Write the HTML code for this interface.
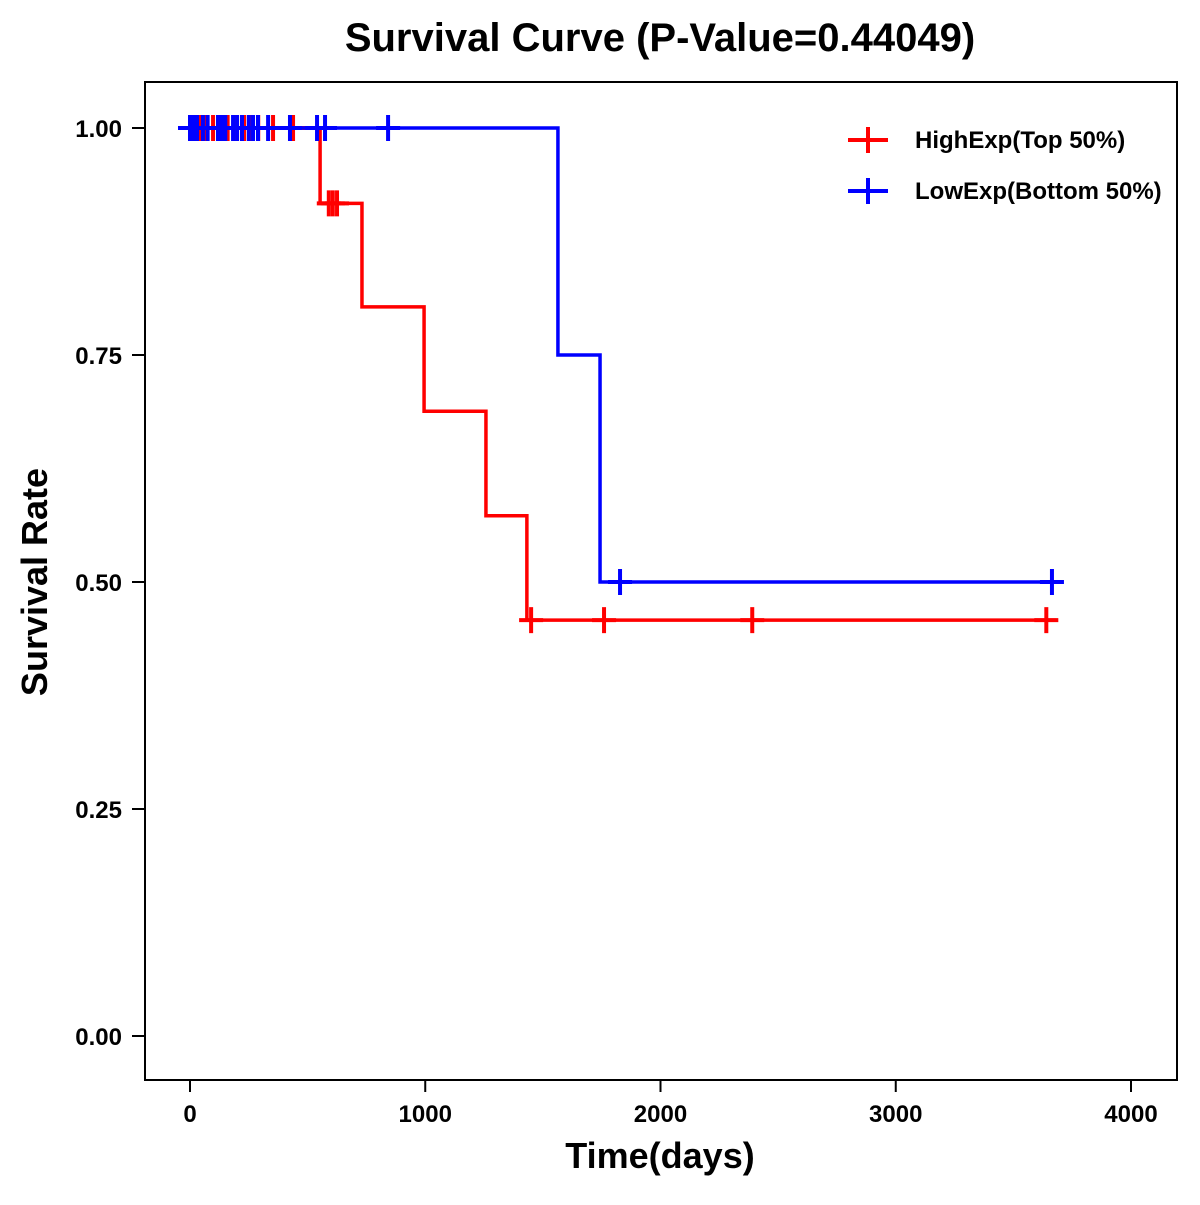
<!DOCTYPE html>
<html><head><meta charset="utf-8"><style>
html,body{margin:0;padding:0;background:#fff;}
svg text{font-family:"Liberation Sans",Arial,sans-serif;font-weight:bold;}
</style></head><body>
<svg id="chart" width="1200" height="1200" xmlns="http://www.w3.org/2000/svg">
<rect width="1200" height="1200" fill="#fff"/>
<text x="660" y="51" font-size="40" text-anchor="middle">Survival Curve (P-Value=0.44049)</text>
<rect x="145" y="82" width="1032" height="998" fill="none" stroke="#000" stroke-width="2"/>
<g id="xaxis"></g>
<g id="yaxis"></g>
<text x="660" y="1168" font-size="36" text-anchor="middle">Time(days)</text>
<text x="0" y="0" font-size="36" text-anchor="middle" transform="translate(47,582) rotate(-90)">Survival Rate</text>
<g id="series"></g>
<g>
 <g>
  <line x1="848" y1="140" x2="888" y2="140" stroke="#f00" stroke-width="4"/>
  <line x1="868" y1="127" x2="868" y2="153" stroke="#f00" stroke-width="4"/>
  <text x="915" y="148" font-size="24">HighExp(Top 50%)</text>
 </g>
 <g>
  <line x1="848" y1="191" x2="888" y2="191" stroke="#00f" stroke-width="4"/>
  <line x1="868" y1="178" x2="868" y2="204" stroke="#00f" stroke-width="4"/>
  <text x="915" y="199" font-size="24">LowExp(Bottom 50%)</text>
 </g>
</g>
</svg>
<script>
const xTicks=[0,1000,2000,3000,4000];
const yTicks=[0,0.25,0.5,0.75,1];
const yTickLabels=["0.00","0.25","0.50","0.75","1.00"];
const highTimes=[0,553,731,995,1258,1432,3681];
const highSurv=[1,0.917,0.803,0.688,0.573,0.458,0.458];
const highCensorT=[20,43,70,98,130,160,200,230,260,290,353,438,590,607,625,1450,1760,2390,3640];
const highCensorS=[1,1,1,1,1,1,1,1,1,1,1,1,0.917,0.917,0.917,0.458,0.458,0.458,0.458];
const lowTimes=[-50,1564,1743,3707];
const lowSurv=[1,0.75,0.5,0.5];
const lowCensorT=[0,15,30,55,75,119,135,150,183,200,221,250,268,289,332,425,540,574,842,1828,3664];
const lowCensorS=[1,1,1,1,1,1,1,1,1,1,1,1,1,1,1,1,1,1,1,0.5,0.5];
const NS="http://www.w3.org/2000/svg";
const X=t=>190+t*0.23525;
const Y=s=>1036-s*908;
function mk(tag,attrs,parent){const e=document.createElementNS(NS,tag);for(const k in attrs)e.setAttribute(k,attrs[k]);parent.appendChild(e);return e;}
const xa=document.getElementById('xaxis'),ya=document.getElementById('yaxis'),sg=document.getElementById('series');
xTicks.forEach(t=>{
 const l=mk('line',{x1:X(t),x2:X(t),y1:1080,y2:1092,stroke:'#000','stroke-width':2},xa);
 
 
 const tx=mk('text',{x:X(t),y:1122,'font-size':24,'text-anchor':'middle'},xa);tx.textContent=t;
 
 
});
yTicks.forEach((v,i)=>{
 const l=mk('line',{x1:132,x2:145,y1:Y(v),y2:Y(v),stroke:'#000','stroke-width':2},ya);
 
 
 const tx=mk('text',{x:122,y:Y(v)+9,'font-size':24,'text-anchor':'end'},ya);tx.textContent=yTickLabels[i];
 
 
});
function drawSeries(times,surv,ct,cs,color,name){
 let d='M'+X(times[0])+','+Y(surv[0]);
 for(let i=1;i<times.length;i++){d+=' H'+X(times[i])+' V'+Y(surv[i]);}
 const p=mk('path',{d:d,fill:'none',stroke:color,'stroke-width':3.5},sg);
 
 
 ct.forEach((t,i)=>{
  const g=mk('g',{},sg);
  
  
  mk('line',{x1:X(t)-12,x2:X(t)+12,y1:Y(cs[i]),y2:Y(cs[i]),stroke:color,'stroke-width':4},g);
  mk('line',{x1:X(t),x2:X(t),y1:Y(cs[i])-13,y2:Y(cs[i])+13,stroke:color,'stroke-width':4},g);
 });
}
drawSeries(highTimes,highSurv,highCensorT,highCensorS,'#f00','high-exp');
drawSeries(lowTimes,lowSurv,lowCensorT,lowCensorS,'#00f','low-exp');
</script>
</body></html>
